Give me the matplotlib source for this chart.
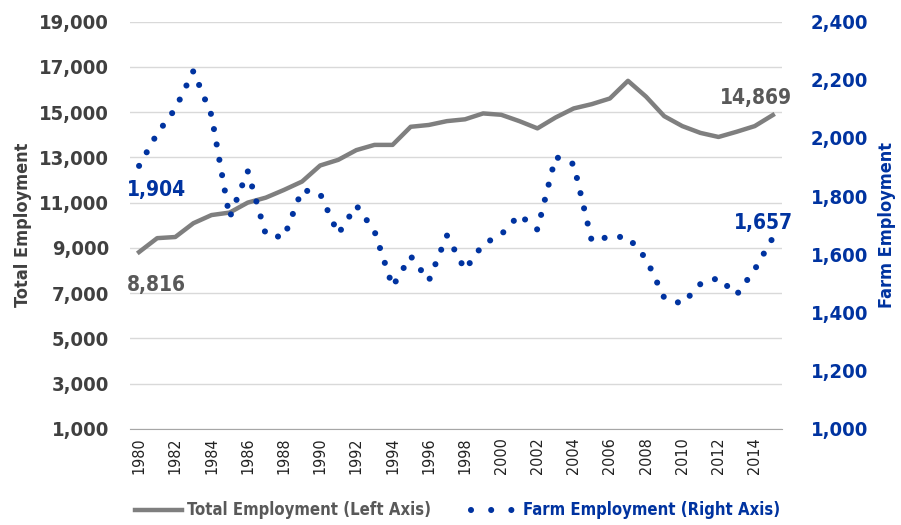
import matplotlib
matplotlib.use("Agg")
import matplotlib.pyplot as plt
from matplotlib.lines import Line2D

plt.rcParams['font.family'] = ['DejaVu Sans']
plt.rcParams['font.stretch'] = 'condensed'

# values
years = list(range(1980, 2016))
total_emp = [8816, 9430, 9480, 10090, 10450, 10560, 11000, 11220, 11560, 11930,
             12640, 12890, 13320, 13550, 13550, 14350, 14430, 14600, 14680, 14940,
             14880, 14600, 14280, 14760, 15160, 15350, 15600, 16380, 15680, 14820,
             14380, 14080, 13900, 14130, 14380, 14869]
farm_emp = [1904, 2015, 2100, 2230, 2078, 1726, 1886, 1668, 1658, 1822,
            1808, 1670, 1768, 1680, 1489, 1594, 1509, 1665, 1547, 1635,
            1668, 1736, 1685, 1935, 1910, 1646, 1661, 1659, 1585, 1451,
            1430, 1498, 1519, 1461, 1548, 1657]
left_ticks = list(range(1000, 19001, 2000))
right_ticks = list(range(1000, 2401, 200))
year_ticks = list(range(1980, 2015, 2))

gray = '#7f7f7f'
dark = '#404040'
label_gray = '#595959'
blue = '#0033a0'

fig = plt.figure(figsize=(9.01, 5.25), dpi=100)
ax = fig.add_axes([0.1443, 0.1829, 0.7235, 0.7761])
ax2 = ax.twinx()

# total employment (left axis)
ax.plot(years, total_emp, color=gray, lw=3.2, solid_joinstyle='round', zorder=3)
ax.set_ylim(1000, 19000)
ax.set_yticks(left_ticks)
ax.set_yticklabels([f'{v:,}' for v in left_ticks], fontsize=14.5, fontweight='bold', color=dark)
ax.set_xlim(1979.5, 2015.5)
ax.set_xticks(year_ticks)
ax.set_xticklabels([str(y) for y in year_ticks], rotation=90, fontsize=11.5, color='#222222')
ax.grid(axis='y', color='#d9d9d9', lw=1)
ax.set_axisbelow(True)
ax.tick_params(axis='both', length=0)
ax.tick_params(axis='y', pad=15)
ax.tick_params(axis='x', pad=6)
for s in ['top', 'left', 'right']:
    ax.spines[s].set_visible(False)
ax.spines['bottom'].set_color('#a6a6a6')
ax.set_ylabel('Total Employment', fontsize=13, fontweight='bold', color=dark, labelpad=5)

# farm employment (right axis)
ax2.plot(years, farm_emp, color=blue, lw=4.4, linestyle=(0, (0.001, 2.55)),
         dash_capstyle='round', zorder=3)
ax2.set_ylim(1000, 2400)
ax2.set_yticks(right_ticks)
ax2.set_yticklabels([f'{v:,}' for v in right_ticks], fontsize=14.5, fontweight='bold', color=blue)
ax2.tick_params(axis='y', length=0, pad=21)
for s in ['top', 'left', 'right', 'bottom']:
    ax2.spines[s].set_visible(False)
ax2.set_ylabel('Farm Employment', fontsize=13, fontweight='bold', color=blue, labelpad=7)

# end point labels
ax.annotate(f'{total_emp[0]:,}', (years[0], total_emp[0]), xytext=(-9, -28),
            textcoords='offset points', fontsize=15, fontweight='bold', color=label_gray)
ax.annotate(f'{total_emp[-1]:,}', (years[-1], total_emp[-1]), xytext=(-38, 8),
            textcoords='offset points', fontsize=15, fontweight='bold', color=label_gray)
ax2.annotate(f'{farm_emp[0]:,}', (years[0], farm_emp[0]), xytext=(-9, -22),
             textcoords='offset points', fontsize=15, fontweight='bold', color=blue)
ax2.annotate(f'{farm_emp[-1]:,}', (years[-1], farm_emp[-1]), xytext=(-28, 6),
             textcoords='offset points', fontsize=15, fontweight='bold', color=blue)

handles = [Line2D([], [], color=gray, lw=3.2),
           Line2D([], [], color=blue, lw=4.4, linestyle=(0, (0.001, 3.3)), dash_capstyle='round')]
leg = fig.legend(handles, ['Total Employment (Left Axis)', 'Farm Employment (Right Axis)'],
                 loc='lower center', bbox_to_anchor=(0.508, -0.018), ncol=2, frameon=False,
                 prop={'size': 12, 'weight': 'bold', 'stretch': 'condensed'},
                 handlelength=2.8, columnspacing=2.4, handletextpad=0.3)
leg.get_texts()[0].set_color(label_gray)
leg.get_texts()[1].set_color(blue)

fig.savefig('out.png', dpi=100)
